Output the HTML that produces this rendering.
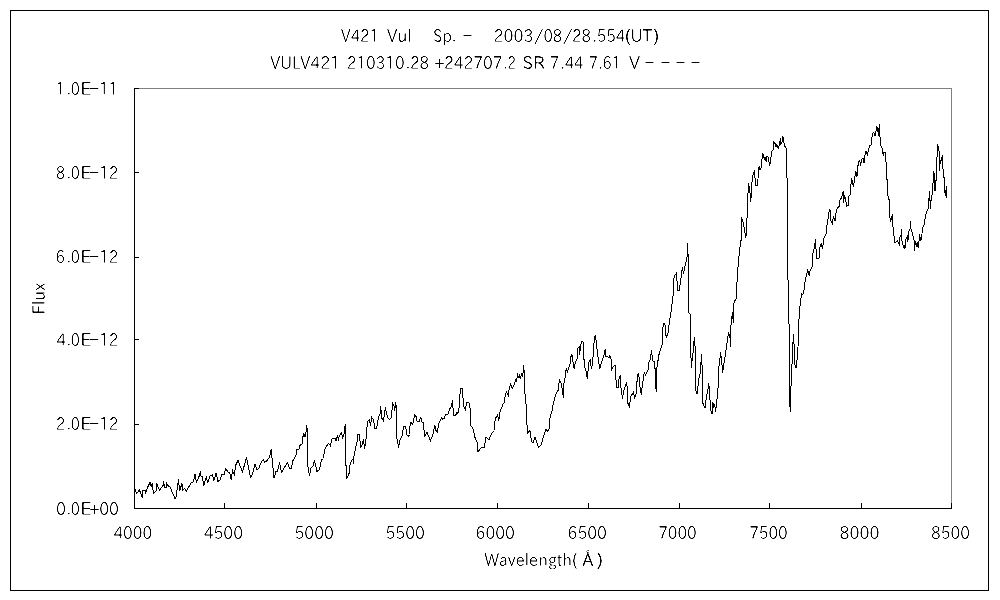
<!DOCTYPE html>
<html lang="en"><head><meta charset="utf-8"><title>V421 Vul spectrum</title>
<style>html,body{margin:0;padding:0;background:#fff}body{width:1000px;height:600px;overflow:hidden}svg{display:block;will-change:transform}text{font-family:"IPAPGothic","IPAGothic","Liberation Sans",sans-serif;font-size:17.6px;fill:#000;stroke:#fff;stroke-width:0.19px;white-space:pre}</style>
</head><body>
<svg width="1000" height="600" viewBox="0 0 1000 600">
<rect x="0" y="0" width="1000" height="600" fill="#fff"/>
<g shape-rendering="crispEdges" fill="none" stroke-width="1">
<rect x="10.5" y="10.5" width="978" height="580" stroke="#000"/>
<path d="M134 88.5H952M951.5 88V509" stroke="#808080"/>
<path d="M134.5 88V509M134 508.5H952" stroke="#000"/>
<path d="M134.5 503V509M224.5 503V509M316.5 503V509M406.5 503V509M497.5 503V509M588.5 503V509M679.5 503V509M769.5 503V509M861.5 503V509M951.5 503V509M134 508.5H139M134 424.5H139M134 339.5H139M134 257.5H139M134 172.5H139M134 88.5H139" stroke="#000"/>
</g>
<polyline shape-rendering="crispEdges" fill="none" stroke="#000" stroke-width="1" stroke-linejoin="miter" points="134,486 136.5,493.5 139.5,490 142.2,497.5 143,490.5 145,490.5 145.5,493.5 147.5,487.5 150,482.5 151.5,487 152.2,483 153.5,493.5 156,491 156.8,483.5 159.5,490.5 163.3,485 163.5,481.5 164.5,487 166.5,487 166.8,483.5 168,485.5 170.5,487.5 171.5,490.5 175,498.5 176.2,496.5 178.5,479.5 179.5,491 182,483.5 182.5,490 184.5,488.5 186.5,491 189,486.5 191,483 193.5,481.5 195,474.5 196.5,482 199,476.5 200.5,471.5 201.2,477 202.5,476.5 203.7,486 206.5,476 207.5,483 210,476 212.5,474.5 213.7,481 216.2,472.8 218,481.5 220,480 222,474.5 224.5,474 225.5,468.5 228,472 230,473.5 231.2,479.5 232.5,470.5 234.5,475 235.5,465.5 238,460.5 242.5,472 246.5,457.5 250.5,477 252,475.5 255,464.5 257,470 259,468 261.5,461.5 263.5,459.5 264.5,462.5 266.5,461 269.5,457.5 271.2,449.5 274,478 276,471.5 277.5,471.5 279.5,462.5 281.5,472.5 285,466.5 287.5,462.5 289.5,468 291.5,468 293,460.5 296,455.5 296.5,449.5 299.5,449 300,445.5 302.5,443.5 303,436.5 304,433.5 304.5,436 305.8,436 306,432.5 306.5,425.5 307.5,431.5 307.5,463.5 309.5,475.5 311,468 313,466 314.5,460.5 317,471.5 319.5,469.5 321.5,460 323.5,458.5 324.5,450.5 326.5,446 328.5,443.5 330,445 330.5,447 331.5,439.5 332.5,438.5 335,438.5 336,441 337.5,435 338.5,441 339,437 341.2,432.5 342.8,438 344,434.5 344.5,428.5 345.5,424.5 345.7,454.5 346.4,478.5 347.8,476.4 349.6,472 349.6,466 351.3,461 353,459 353.4,463.5 353.8,457 355.6,448 356.6,443.5 357.5,440 357.8,434.5 359.5,434.5 360.5,447 362,445.5 363.5,439.5 364.5,449 366,439 366.8,428.5 367.8,421.5 369.5,419.5 370.5,425.5 371.8,417.5 373.5,420 374.8,428.5 376.5,428.5 378.5,417.5 380,414 380.6,406.5 382,418.5 383.5,421 385.3,407.5 387.5,417.5 389.5,419.5 391.5,417.5 392.5,402.5 394,406 394.7,411 395.5,402.5 396.5,408 396.5,436.5 398.7,448 399.5,441 402.2,435.5 403.5,426.5 405.5,426.5 407,435 408.5,436.5 409.5,434.5 409.7,427 411,422.5 412.5,424 413.5,422 414.5,414.5 416,416.5 417,421 419.5,421.5 420.5,417.5 421.5,419 421.8,422 423.5,422.5 424.5,436.5 427,432.5 430.5,440.5 433,434.5 434.8,425.5 436,430.5 437.5,432 438.5,424.5 441.5,417.5 442.5,419 444.5,418 445.5,414.5 448.5,414 449.5,409 451.5,406.5 452.5,400.5 453.5,415.5 455.5,415.5 457,412.5 458,413.5 459,408.5 459.6,397 460.7,388.7 462.4,388.7 463.5,406 465.4,410 466.6,402.6 469,402.6 470.4,410.3 470.7,425.4 473.4,429.4 474.5,436.3 477.4,442.8 478,452 480,449.3 482,447.3 484.4,447.3 485.7,437.3 487.3,438 489,440 491.3,434 494,430.7 495.3,418.7 497.7,414.7 498.7,420.7 500,412 503.3,403.3 504.2,403 505.4,394.2 506.6,392.2 508.2,395.4 509.4,387.4 510.6,384.2 512.2,388.6 513.8,385.8 515.8,379.8 516.6,381.4 517.6,373.4 518.4,378.2 519.4,374.6 520.4,379.4 521.4,373.4 522.6,377.4 523,373 523.6,365 524.2,372.2 524.8,391.8 525.8,401.8 526.5,410 527.3,433.3 530,430.7 531.6,442 533.3,442.7 535,436.7 538.3,447.3 541.3,444.7 543,438 546,429.3 548,431.3 549.3,428.7 549.7,418.7 552.3,410 553,404.7 555.5,395.3 556.6,392.2 558.2,390.4 558.6,384.6 559.5,380.4 561,383.2 562.2,388.6 563.4,398.3 563.7,385 564.6,379 565.5,376.7 565.9,370 566.6,368.5 567.4,373 568.4,368.7 569.9,365.4 570.7,357 571.9,354.8 573.8,367.4 574.4,368 575.3,362.7 577.3,358 578,348 579.3,346.7 579.6,354.7 580.7,346 581.6,341.3 583,342 584.4,366 586.4,372.7 587.3,379.3 588.7,362.7 590.4,358.7 591.3,369.3 592.7,362 593.7,346 594.7,336.7 595.6,334.7 596.3,343.3 598,356.7 599.7,369.3 602,360.7 604,354.7 605.3,349.3 606,356.7 609.3,357.3 609.7,354.7 611,358.7 611.7,369.3 613,366.7 615.3,365.3 616.4,388 618.4,387.3 619,378.7 620.3,375.3 620.7,386 622.7,399.3 623.3,392 626.4,383.3 627.3,387 627.7,403 629.5,406.6 630.7,396.4 633.3,392.5 634.7,398.1 636.3,393.5 637.1,380 637.5,375.5 638.7,372.7 639.5,383.3 641.2,394.5 642.7,383.25 644.2,372.75 645.7,375 648.25,369.75 649,362.25 650.5,358.5 651.5,350.25 652.75,360.75 654.7,362.25 656.2,392.25 657,367.5 658.75,355.5 660.25,350.25 662.2,344 662.6,330.4 663.6,323.2 664.9,323.2 666.2,337.6 668,333.1 669.4,321.4 671.2,310.6 673,296.2 673.5,280 674.8,275.5 676.6,273.2 677.5,290.8 679.3,290.8 681.1,277.3 682.4,267.4 683.4,273.7 684.7,267.4 686,262 687,257.5 687.4,243.1 688.3,258.4 688.7,312.4 690.1,314.2 690.5,340 691.3,367.5 693,353.3 694.3,337.2 695.3,350 695.7,390.5 697.2,394.3 698.6,380 700.6,371 701.4,354 702.1,366 702.6,402.5 704.3,407 705.3,407.5 706.2,397.5 708,389.2 708.7,383.3 709.7,390.8 710.3,408.3 712,414.2 712.8,402.5 713.8,406.7 714.7,405 715.8,411.7 716.3,403.3 717.8,394.2 718.7,368.3 720,358.3 720.5,352.5 721.7,360 722.5,373.3 723.8,364.2 725.5,354.2 727.5,339.2 728.7,332.5 730,338.3 730.3,346.7 730.8,326.7 731.7,320.4 732.4,311.6 733.3,323 734.1,300.3 735.9,301.1 736.6,289.8 737.6,271.4 739.4,251.3 741.1,239.9 741.7,217.5 743.3,223.3 744.7,231 745.7,238.1 746.5,232 746.9,221.7 747.5,202.5 748.5,183.5 749.5,188 750.8,201.7 751.5,188 752.5,176.5 753.5,173.5 754.5,171.5 755,178 755.8,185 757.5,185 758,179 758.5,168 759.5,166.5 760,169.5 761.2,168 761.8,161.5 762.5,153.5 763.5,154.5 764.2,159.5 765,157 766.2,162 766.8,156.5 768.5,157.5 769.5,166 770.5,162.5 771.5,151.5 773,150.5 773.5,141.5 775,143.5 776,147 776.8,145 778.2,148.5 779.2,145 780.5,138.5 780.8,144 782,142.5 782.5,136.5 783.5,137.5 784.2,145 785.5,147.5 786.5,148.5 786.7,178 787.5,178.5 787.7,270.5 788.9,307.3 789.5,397.5 790.3,411.7 791.3,375 792.5,355.8 793.3,334.2 794.2,346.7 795,365 796.2,368.3 797,360 798,346.7 798.5,325 799.5,313 800.5,300.25 801.75,294.25 802.8,295 804,290.5 805.5,278.5 806.7,274 807.75,269.5 809.25,276.25 810,271 812,267.25 812.7,254.5 814.2,247.75 815.7,238.75 816,248.5 816.4,258.25 819,258.25 819.75,247.75 821.1,243.7 822.6,249 823.6,239 826,234 827,224.7 828.3,217.3 829.4,209.3 830.3,210.7 831,220.7 832.3,223.3 833.4,216.7 835.3,221.3 836.3,210 837,208.7 839.4,206 840,200 841.7,197.3 843.3,191.3 843.7,202.7 844.3,194.7 845.4,198.7 846.7,206 848.3,205.3 849,196 850.3,194.7 850.8,185.2 851.8,178.5 853.3,186.5 854.7,179.2 855.6,170.8 857,176.8 857.7,167 858.7,162.3 859.6,159.7 860.7,166.3 861.3,160.3 863,157.7 864,163 864.7,156.3 865.7,151 866.5,151 867.3,155.7 868.3,151 869.6,145 871,145 871.6,139.7 872.7,133.7 873.7,132.3 875,136.3 876,131 876.7,126.3 877.7,129 878.4,135.7 879.3,124.3 880,137 880.7,145 882,147.7 883.3,155.7 884,152.3 885.3,152.3 885.7,161.7 886.7,162.3 887,179.7 887.7,180.3 887.9,195.8 889.3,200.5 889.6,215.7 890.7,221.5 891.7,216.3 892.5,215.1 892.6,226.8 893.8,227.3 894.2,243.1 897.5,240.8 899.3,244.3 899.6,238.4 901,234.9 901.6,229.1 901.8,240.2 902.8,244.3 904.2,248.3 904.8,245.5 905.4,248.3 905.9,239.6 907.4,236.7 907.8,241.9 908.9,231.4 910.1,228.5 910.6,220.9 910.9,228.5 912.7,234.3 914.2,240.8 914.4,250.7 915,241.3 916.2,246 917.2,243 918.3,248.3 918.9,242.5 919.7,233.8 920.3,240.8 921.8,239.6 922.2,228.5 924.1,225 925.5,216.3 926.7,211.6 928.3,208.7 928.6,203.2 929.5,191.2 930.1,202 930.4,208.8 931.3,198 932.5,193 933.1,181.3 933.5,171.3 934.4,175 935,191.3 935.6,180.6 936.2,180.6 936.5,157.5 937.3,156.9 937.5,144.4 938.5,146.9 939,150.6 939.4,171.3 940,160 940.6,164.4 941.3,158.1 942.5,156.3 942.8,168.8 943.5,169.4 944,177.5 944.6,178.1 945,192.5 945.6,196.3 946.3,186.3 946.6,198.1"/>
<defs><filter id="bw" x="0" y="0" width="1000" height="600" filterUnits="userSpaceOnUse" color-interpolation-filters="sRGB"><feColorMatrix type="matrix" values="0 0 0 0 0 0 0 0 0 0 0 0 0 0 0 -1 0 0 0 1"/><feComponentTransfer><feFuncA type="linear" slope="3" intercept="-1"/></feComponentTransfer></filter></defs>
<g filter="url(#bw)"><rect x="0" y="0" width="1000" height="600" fill="#fff"/>
<text x="341.09" y="42.0" textLength="37.97" lengthAdjust="spacingAndGlyphs">V421</text>
<text x="387.09" y="42.0" textLength="24.54" lengthAdjust="spacingAndGlyphs">Vul</text>
<text x="433.09" y="42.0" textLength="23.12" lengthAdjust="spacingAndGlyphs">Sp.</text>
<text x="461.47" y="40.9" textLength="12.06" lengthAdjust="spacingAndGlyphs">-</text>
<text x="493.52" y="42.0" textLength="39.93" lengthAdjust="spacingAndGlyphs">2003</text>
<text x="533.15" y="42.0" textLength="11.56" lengthAdjust="spacingAndGlyphs">/</text>
<text x="543.44" y="42.0" textLength="18.71" lengthAdjust="spacingAndGlyphs">08</text>
<text x="561.90" y="42.0" textLength="12.08" lengthAdjust="spacingAndGlyphs">/</text>
<text x="571.97" y="42.0" textLength="18.99" lengthAdjust="spacingAndGlyphs">28</text>
<text x="592.68" y="42.0" textLength="32.52" lengthAdjust="spacingAndGlyphs">.554</text>
<text x="624.70" y="42.0" textLength="5.86" lengthAdjust="spacingAndGlyphs" style="stroke-width:0.04px">(</text>
<text x="630.66" y="42.0" textLength="21.20" lengthAdjust="spacingAndGlyphs">UT</text>
<text x="653.51" y="42.0" textLength="5.72" lengthAdjust="spacingAndGlyphs" style="stroke-width:0.04px">)</text>
<text x="270.29" y="69.0" textLength="69.74" lengthAdjust="spacingAndGlyphs">VULV421</text>
<text x="346.76" y="69.0" textLength="57.81" lengthAdjust="spacingAndGlyphs">210310</text>
<text x="405.88" y="69.0" textLength="23.08" lengthAdjust="spacingAndGlyphs">.28</text>
<text x="434.15" y="69.0" textLength="10.49" lengthAdjust="spacingAndGlyphs" style="stroke-width:0.04px">+</text>
<text x="443.94" y="69.0" textLength="58.50" lengthAdjust="spacingAndGlyphs">242707</text>
<text x="504.03" y="69.0" textLength="11.70" lengthAdjust="spacingAndGlyphs">.2</text>
<text x="522.15" y="69.0" textLength="23.07" lengthAdjust="spacingAndGlyphs">SR</text>
<text x="550.10" y="69.0" textLength="9.07" lengthAdjust="spacingAndGlyphs">7</text>
<text x="560.69" y="69.0" textLength="22.80" lengthAdjust="spacingAndGlyphs">.44</text>
<text x="589.12" y="69.0" textLength="8.82" lengthAdjust="spacingAndGlyphs">7</text>
<text x="598.72" y="69.0" textLength="22.23" lengthAdjust="spacingAndGlyphs">.61</text>
<text x="629.10" y="69.0" textLength="11.02" lengthAdjust="spacingAndGlyphs">V</text>
<text x="643.47" y="67.9" textLength="12.06" lengthAdjust="spacingAndGlyphs">-</text>
<text x="659.47" y="67.9" textLength="12.06" lengthAdjust="spacingAndGlyphs">-</text>
<text x="674.47" y="67.9" textLength="12.06" lengthAdjust="spacingAndGlyphs">-</text>
<text x="689.47" y="67.9" textLength="12.06" lengthAdjust="spacingAndGlyphs">-</text>
<text x="55.99" y="515.0" textLength="10.01" lengthAdjust="spacingAndGlyphs">0</text>
<text x="66.93" y="515.0" textLength="12.89" lengthAdjust="spacingAndGlyphs">.0</text>
<text x="80.34" y="515.0" textLength="11.50" lengthAdjust="spacingAndGlyphs">E</text>
<text x="89.15" y="515.0" textLength="10.49" lengthAdjust="spacingAndGlyphs" style="stroke-width:0.04px">+</text>
<text x="99.20" y="515.0" textLength="19.79" lengthAdjust="spacingAndGlyphs">00</text>
<text x="55.63" y="430.0" textLength="9.47" lengthAdjust="spacingAndGlyphs">2</text>
<text x="66.93" y="430.0" textLength="12.89" lengthAdjust="spacingAndGlyphs">.0</text>
<text x="80.34" y="430.0" textLength="11.50" lengthAdjust="spacingAndGlyphs">E</text>
<text x="88.25" y="428.9" textLength="12.20" lengthAdjust="spacingAndGlyphs">-</text>
<text x="99.25" y="430.0" textLength="19.04" lengthAdjust="spacingAndGlyphs">12</text>
<text x="56.20" y="346.0" textLength="9.92" lengthAdjust="spacingAndGlyphs">4</text>
<text x="66.93" y="346.0" textLength="12.89" lengthAdjust="spacingAndGlyphs">.0</text>
<text x="80.34" y="346.0" textLength="11.50" lengthAdjust="spacingAndGlyphs">E</text>
<text x="88.25" y="344.9" textLength="12.20" lengthAdjust="spacingAndGlyphs">-</text>
<text x="99.25" y="346.0" textLength="19.04" lengthAdjust="spacingAndGlyphs">12</text>
<text x="55.54" y="263.0" textLength="9.47" lengthAdjust="spacingAndGlyphs">6</text>
<text x="66.93" y="263.0" textLength="12.89" lengthAdjust="spacingAndGlyphs">.0</text>
<text x="80.34" y="263.0" textLength="11.50" lengthAdjust="spacingAndGlyphs">E</text>
<text x="88.25" y="261.9" textLength="12.20" lengthAdjust="spacingAndGlyphs">-</text>
<text x="99.25" y="263.0" textLength="19.04" lengthAdjust="spacingAndGlyphs">12</text>
<text x="55.91" y="179.0" textLength="9.06" lengthAdjust="spacingAndGlyphs">8</text>
<text x="66.93" y="179.0" textLength="12.89" lengthAdjust="spacingAndGlyphs">.0</text>
<text x="80.34" y="179.0" textLength="11.50" lengthAdjust="spacingAndGlyphs">E</text>
<text x="88.25" y="177.9" textLength="12.20" lengthAdjust="spacingAndGlyphs">-</text>
<text x="99.25" y="179.0" textLength="19.04" lengthAdjust="spacingAndGlyphs">12</text>
<text x="56.45" y="95.0" textLength="7.09" lengthAdjust="spacingAndGlyphs">1</text>
<text x="66.93" y="95.0" textLength="12.89" lengthAdjust="spacingAndGlyphs">.0</text>
<text x="80.34" y="95.0" textLength="11.50" lengthAdjust="spacingAndGlyphs">E</text>
<text x="88.25" y="93.9" textLength="12.20" lengthAdjust="spacingAndGlyphs">-</text>
<text x="99.32" y="95.0" textLength="18.19" lengthAdjust="spacingAndGlyphs">11</text>
<text x="113.46" y="539.0" textLength="38.61" lengthAdjust="spacingAndGlyphs">4000</text>
<text x="203.66" y="539.0" textLength="39.43" lengthAdjust="spacingAndGlyphs">4500</text>
<text x="294.54" y="539.0" textLength="39.35" lengthAdjust="spacingAndGlyphs">5000</text>
<text x="385.54" y="539.0" textLength="39.35" lengthAdjust="spacingAndGlyphs">5500</text>
<text x="475.55" y="539.0" textLength="39.34" lengthAdjust="spacingAndGlyphs">6000</text>
<text x="567.55" y="539.0" textLength="39.34" lengthAdjust="spacingAndGlyphs">6500</text>
<text x="658.14" y="539.0" textLength="38.53" lengthAdjust="spacingAndGlyphs">7000</text>
<text x="749.14" y="539.0" textLength="38.53" lengthAdjust="spacingAndGlyphs">7500</text>
<text x="839.49" y="539.0" textLength="40.01" lengthAdjust="spacingAndGlyphs">8000</text>
<text x="931.11" y="539.0" textLength="38.87" lengthAdjust="spacingAndGlyphs">8500</text>
<text x="484.16" y="566.0" textLength="87.90" lengthAdjust="spacingAndGlyphs">Wavelength</text>
<text x="572.06" y="566.0" textLength="5.15" lengthAdjust="spacingAndGlyphs" style="stroke-width:0.04px">(</text>
<text x="582.60" y="566.0" textLength="10.74" lengthAdjust="spacingAndGlyphs" style="stroke-width:0.04px">Å</text>
<text x="596.65" y="566.0" textLength="6.43" lengthAdjust="spacingAndGlyphs" style="stroke-width:0.04px">)</text>
<text transform="translate(45,313) rotate(-90)" x="-1.49" y="0" textLength="31.68" lengthAdjust="spacingAndGlyphs">Flux</text>
</g>
</svg>
</body></html>
